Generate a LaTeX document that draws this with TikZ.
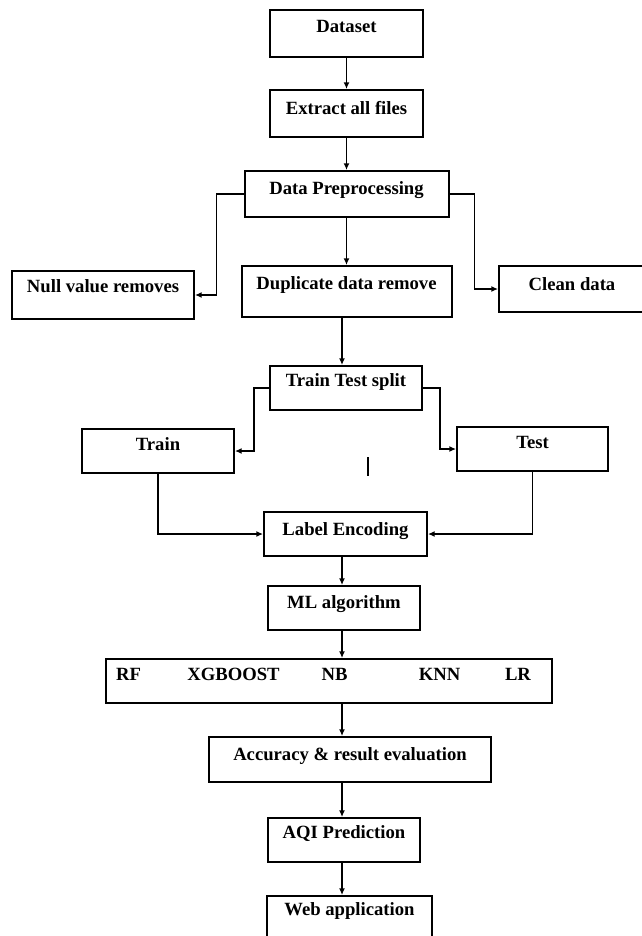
\documentclass[tikz,border=0pt]{standalone}
\usepackage{fontspec}
\setmainfont{Liberation Serif}
\usepackage{tikz}
\usetikzlibrary{arrows.meta}

\tikzset{
  stepbox/.style={draw, line width=1.5pt, inner sep=0pt,
    text height=16.5pt, text depth=16.5pt,
    font=\fontsize{14}{16}\selectfont\bfseries},
  algo/.style={anchor=base, inner sep=0pt, font=\fontsize{14}{16}\selectfont\bfseries},
  flow/.style={-{Latex[length=5pt,width=4.5pt]}, line width=1.3pt}
}

\begin{document}
\begin{tikzpicture}[x=0.75pt,y=-0.75pt]
    \useasboundingbox (0,0) rectangle (642,936);
    \clip (0,0) rectangle (642,936);

    % Loading and preprocessing
    \node[stepbox, minimum width=114.75pt, text depth=18.75pt] (dataset) at (346.5,33.5) {Dataset};
    \node[stepbox, minimum width=114.75pt, text height=18pt, text depth=17.25pt] (extract) at (346.5,113.5) {Extract all files};
    \node[stepbox, minimum width=153pt, text height=17.25pt, text depth=17.25pt] (prepro) at (346.5,194) {Data Preprocessing};
    \node[stepbox, minimum width=136.5pt, text height=15.75pt, text depth=20.25pt] (nullrm) at (103,295) {Null value removes};
    \node[stepbox, minimum width=157.5pt, text height=17.25pt, text depth=21pt] (duprm) at (346.5,291.5) {Duplicate data remove};
    \node[stepbox, minimum width=109.5pt, text height=18pt, text depth=16.5pt] (clean) at (572,289) {Clean data};

    % Splitting
    \node[stepbox, minimum width=114pt, text height=15pt, text depth=18pt] (split) at (346,388) {Train Test split};
    \node[stepbox, minimum width=114pt, text height=15.75pt, text depth=17.25pt] (train) at (158,451) {Train};
    \node[stepbox, minimum width=113.25pt, text height=15.75pt, text depth=17.25pt] (test) at (532.5,449) {Test};
    \node[stepbox, minimum width=122.25pt, text height=17.25pt, text depth=15.75pt] (labelenc) at (345.5,534) {Label Encoding};
    \node[stepbox, minimum width=114pt] (mlalgo) at (344,608) {ML algorithm};

    % Models
    \node[draw, line width=1.5pt, inner sep=0pt, minimum width=334.5pt, minimum height=33pt] (models) at (329,681) {};
    \node[algo] (rf) at (128.5,680) {RF};
    \node[algo] (xgb) at (233.5,680) {XGBOOST};
    \node[algo] (nb) at (334.5,680) {NB};
    \node[algo] (knn) at (439.5,680) {KNN};
    \node[algo] (lr) at (518,680) {LR};

    % Evaluation and output
    \node[stepbox, minimum width=211.5pt, text height=17.25pt, text depth=16.5pt] (accuracy) at (350,759.5) {Accuracy \& result evaluation};
    \node[stepbox, minimum width=114pt, text height=15pt, text depth=18pt] (aqi) at (344,840) {AQI Prediction};
    \node[stepbox, minimum width=123.75pt, text height=14.25pt, text depth=18.75pt] (webapp) at (349.5,918) {Web application};

    \coordinate (spine) at (342,0);

    % Arrows
    \draw[flow] (dataset) -- (extract);
    \draw[flow] (extract) -- (prepro);
    \draw[flow] (prepro) -- (duprm);
    \draw[flow] (prepro.west) -- ++(-27,0) |- (nullrm.east);
    \draw[flow] (prepro.east) -- ++(25,0) |- (clean.west);
    \draw[flow] (spine |- duprm.south) -- (spine |- split.north);
    \draw[flow] (split.west) -- ++(-15,0) |- (train.east);
    \draw[flow] (split.east) -- ++(17,0) |- (test.west);
    \draw[flow] (train.south) |- (labelenc.west);
    \draw[flow] (test.south) |- (labelenc.east);
    \draw[flow] (spine |- labelenc.south) -- (spine |- mlalgo.north);
    \draw[flow] (spine |- mlalgo.south) -- (spine |- models.north);
    \draw[flow] (spine |- models.south) -- (spine |- accuracy.north);
    \draw[flow] (spine |- accuracy.south) -- (spine |- aqi.north);
    \draw[flow] (spine |- aqi.south) -- (spine |- webapp.north);

    % stray mark
    \draw[line width=1.3pt] (368,457) -- (368,476);
\end{tikzpicture}
\end{document}
